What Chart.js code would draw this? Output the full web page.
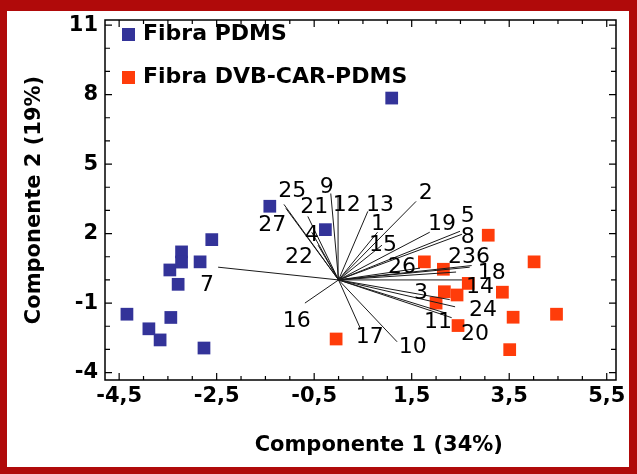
<!DOCTYPE html>
<html>
<head>
<meta charset="utf-8">
<script src="https://cdn.jsdelivr.net/npm/chart.js@4.4.1/dist/chart.umd.min.js"></script>
<style>
  html, body { margin: 0; padding: 0; background: #fff; }
</style>
</head>
<body>
<canvas id="biplot" width="637" height="474"></canvas>
<script>
// scores - Fibra PDMS (blue)
var pdmsX = [-4.34, -3.89, -3.66, -3.44, -3.46, -3.29, -3.22, -3.22, -2.84, -2.60, -2.76, -1.41, -0.27, 1.09];
var pdmsY = [-1.48, -2.11, -2.59, -1.62, 0.43, -0.19, 1.21, 0.77, 0.78, 1.74, -2.94, 3.18, 2.17, 7.85];

// scores - Fibra DVB-CAR-PDMS (red)
var dvbX = [3.07, 1.76, 2.15, 4.01, 2.66, 2.17, 2.43, 3.36, 2.00, 4.47, 3.58, 2.45, 3.51, -0.05];
var dvbY = [1.93, 0.78, 0.46, 0.78, -0.15, -0.51, -0.65, -0.53, -1.00, -1.48, -1.61, -1.97, -3.01, -2.55];

// loadings (variable vectors from origin)
var loadNames = ['7', '25', '27', '21', '4', '22', '9', '12', '13', '1', '15', '2', '19', '5',
                 '8', '26', '23', '6', '18', '14', '3', '24', '11', '20', '10', '17', '16'];
var loadX = [-2.47, -1.12, -1.08, -0.63, -0.55, -0.42, -0.16, -0.01, 0.60, 0.80, 0.89, 1.59, 1.87, 2.49,
             2.53, 1.67, 2.69, 2.73, 2.41, 2.53, 2.28, 2.39, 2.18, 2.32, 1.20, 0.44, -0.69];
var loadY = [0.55, 3.26, 3.09, 2.74, 2.06, 1.50, 3.73, 3.64, 2.96, 2.06, 1.50, 3.39, 2.06, 2.10,
             1.97, 0.51, 0.55, 0.62, 0.34, 0.00, -0.85, -1.16, -1.42, -1.63, -2.67, -2.06, -1.00];
// where each variable number is written
var labelX = [-2.70, -0.95, -1.36, -0.50, -0.55, -0.81, -0.24, 0.17, 0.85, 0.81, 0.91, 1.79, 2.12, 2.65,
              2.65, 1.30, 2.53, 2.96, 3.14, 2.90, 1.69, 2.96, 2.04, 2.80, 1.52, 0.64, -0.86];
var labelY = [-0.22, 3.84, 2.36, 3.13, 1.93, 0.98, 3.99, 3.22, 3.22, 2.40, 1.50, 3.73, 2.40, 2.74,
              1.84, 0.55, 0.97, 0.97, 0.30, -0.30, -0.56, -1.29, -1.85, -2.36, -2.92, -2.49, -1.77];

var xTicks = [-4.5, -2.5, -0.5, 1.5, 3.5, 5.5];
var yTicks = [-4, -1, 2, 5, 8, 11];

function toPoints(xs, ys) {
  return xs.map(function (x, i) { return {x: x, y: ys[i]}; });
}

// each vector: origin -> end, then a gap
var vectorData = [];
for (var i = 0; i < loadX.length; i++) {
  vectorData.push({x: 0, y: 0});
  vectorData.push({x: loadX[i], y: loadY[i]});
  vectorData.push({x: loadX[i], y: null});
}

var boldFont = {family: 'DejaVu Sans', size: 21, weight: 'bold'};

var framePlugin = {
  id: 'frame',
  beforeDraw: function (chart) {
    var ctx = chart.ctx;
    ctx.save();
    ctx.fillStyle = '#fff';
    ctx.fillRect(0, 0, chart.width, chart.height);
    ctx.restore();
  },
  afterDatasetsDraw: function (chart) {
    var ctx = chart.ctx, xs = chart.scales.x, ys = chart.scales.y;
    ctx.save();
    ctx.fillStyle = '#000';
    ctx.font = '22px "DejaVu Sans"';
    ctx.textAlign = 'center';
    ctx.textBaseline = 'middle';
    for (var i = 0; i < loadNames.length; i++) {
      ctx.fillText(loadNames[i], xs.getPixelForValue(labelX[i]), ys.getPixelForValue(labelY[i]));
    }
    ctx.restore();
  },
  afterDraw: function (chart) {
    var ctx = chart.ctx, a = chart.chartArea, xs = chart.scales.x, ys = chart.scales.y;
    ctx.save();
    // plot box
    ctx.strokeStyle = '#000';
    ctx.lineWidth = 1.5;
    ctx.strokeRect(a.left, a.top, a.right - a.left, a.bottom - a.top);
    // inward ticks on all four sides
    ctx.lineWidth = 1.2;
    ctx.beginPath();
    var v, p, len;
    for (v = -4.5; v <= 5.51; v += 0.5) {
      p = xs.getPixelForValue(v);
      len = xTicks.indexOf(Math.round(v * 10) / 10) >= 0 ? 7 : 4;
      ctx.moveTo(p, a.bottom); ctx.lineTo(p, a.bottom - len);
      ctx.moveTo(p, a.top); ctx.lineTo(p, a.top + len);
    }
    for (v = -4; v <= 11; v += 1) {
      p = ys.getPixelForValue(v);
      len = yTicks.indexOf(v) >= 0 ? 7 : 5;
      ctx.moveTo(a.left, p); ctx.lineTo(a.left + len, p);
      ctx.moveTo(a.right, p); ctx.lineTo(a.right - len, p);
    }
    ctx.stroke();

    // legend inside the plot, top-left
    var items = chart.data.datasets.filter(function (d) { return d.inLegend; });
    ctx.font = 'bold 22px "DejaVu Sans"';
    ctx.textAlign = 'left';
    ctx.textBaseline = 'middle';
    items.forEach(function (d, k) {
      var cy = a.top + 14 + k * 43;
      ctx.fillStyle = d.backgroundColor;
      ctx.fillRect(a.left + 17, cy - 6, 13, 13);
      ctx.fillStyle = '#000';
      ctx.fillText(d.label, a.left + 38, cy);
    });

    // dark red outer frame
    ctx.fillStyle = '#b00a0a';
    ctx.fillRect(0, 0, chart.width, 11);
    ctx.fillRect(0, chart.height - 7, chart.width, 7);
    ctx.fillRect(0, 0, 7, chart.height);
    ctx.fillRect(chart.width - 8, 0, 8, chart.height);
    ctx.restore();
  }
};

new Chart(document.getElementById('biplot'), {
  type: 'scatter',
  data: {
    datasets: [
      {
        label: 'vectores',
        data: vectorData,
        showLine: true,
        spanGaps: false,
        borderColor: '#1a1a1a',
        borderWidth: 1,
        pointRadius: 0,
        order: 0
      },
      {
        label: 'Fibra PDMS',
        inLegend: true,
        data: toPoints(pdmsX, pdmsY),
        backgroundColor: '#333399',
        pointStyle: 'rect',
        pointRadius: 9,
        pointBorderWidth: 0,
        order: 2
      },
      {
        label: 'Fibra DVB-CAR-PDMS',
        inLegend: true,
        data: toPoints(dvbX, dvbY),
        backgroundColor: '#ff3c0a',
        pointStyle: 'rect',
        pointRadius: 9,
        pointBorderWidth: 0,
        order: 1
      }
    ]
  },
  options: {
    responsive: false,
    animation: false,
    events: [],
    layout: {padding: {left: 8, top: 20, right: 21, bottom: 10}},
    plugins: {legend: {display: false}, tooltip: {enabled: false}},
    scales: {
      x: {
        type: 'linear',
        min: -4.79,
        max: 5.69,
        afterBuildTicks: function (s) { s.ticks = xTicks.map(function (v) { return {value: v}; }); },
        afterFit: function (s) { s.height = 84; },
        grid: {display: false, drawTicks: false},
        border: {display: false},
        ticks: {
          color: '#000',
          font: boldFont,
          padding: 4,
          maxRotation: 0,
          autoSkip: false,
          callback: function (v) { return String(v).replace('.', ','); }
        },
        title: {
          display: true,
          text: '     Componente 1 (34%)',
          color: '#000',
          font: boldFont,
          padding: {top: 0, bottom: 6}
        }
      },
      y: {
        type: 'linear',
        min: -4.32,
        max: 11.22,
        afterBuildTicks: function (s) { s.ticks = yTicks.map(function (v) { return {value: v}; }); },
        afterFit: function (s) { s.width = 97; },
        grid: {display: false, drawTicks: false},
        border: {display: false},
        ticks: {
          color: '#000',
          font: boldFont,
          padding: 7,
          autoSkip: false,
          callback: function (v) { return String(v).replace('.', ','); }
        },
        title: {
          display: true,
          text: 'Componente 2 (19%)',
          color: '#000',
          font: boldFont,
          padding: {top: 14, bottom: 0}
        }
      }
    }
  },
  plugins: [framePlugin]
});
</script>
</body>
</html>
